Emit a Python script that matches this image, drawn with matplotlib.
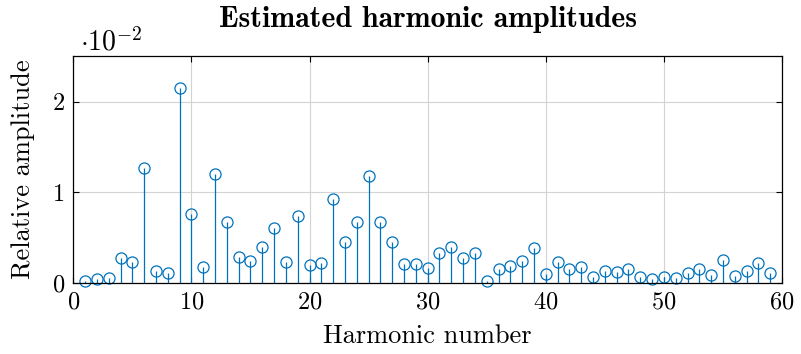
import numpy as np
import matplotlib
matplotlib.use("Agg")
import matplotlib.pyplot as plt
from matplotlib.ticker import FuncFormatter

plt.rcParams["font.family"] = "serif"
plt.rcParams["font.serif"] = ["cmr10"]
plt.rcParams["mathtext.fontset"] = "cm"
plt.rcParams["axes.unicode_minus"] = False
plt.rcParams["axes.formatter.use_mathtext"] = True

# Harmonic amplitudes (in units of 1e-2)
harmonics = np.arange(1, 60)
amplitudes_e2 = [
    0.022, 0.037, 0.048, 0.27, 0.23, 1.267, 0.133, 0.107, 2.155, 0.756,
    0.17, 1.204, 0.674, 0.284, 0.24, 0.391, 0.601, 0.229, 0.740, 0.192,
    0.214, 0.925, 0.446, 0.671, 1.179, 0.667, 0.446, 0.21, 0.21, 0.160,
    0.325, 0.398, 0.276, 0.325, 0.019, 0.148, 0.188, 0.236, 0.38, 0.096,
    0.232, 0.155, 0.173, 0.06, 0.125, 0.12, 0.148, 0.06, 0.044, 0.06,
    0.048, 0.11, 0.155, 0.085, 0.25, 0.07, 0.133, 0.214, 0.104,
]
scale = 1e-2
amplitudes = np.array(amplitudes_e2) * scale

xticks = [0, 10, 20, 30, 40, 50, 60]
yticks = [0, 1e-2, 2e-2]

color = "#0072BD"
fig = plt.figure(figsize=(8.01, 3.54), dpi=100)
ax = fig.add_axes([73.3 / 801, 1 - 282.7 / 354, (782 - 73.3) / 801, (282.7 - 56) / 354])

markerline, stemlines, baseline = ax.stem(harmonics, amplitudes, basefmt=" ")
plt.setp(stemlines, color=color, linewidth=0.9)
plt.setp(markerline, marker="o", markersize=8, markerfacecolor="none",
         markeredgecolor=color, markeredgewidth=0.9)
markerline.set_clip_on(False)

ax.set_xlim(0, 60)
ax.set_ylim(0, 2.505e-2)
ax.set_xticks(xticks)
ax.set_yticks(yticks)
ax.yaxis.set_major_formatter(FuncFormatter(lambda v, p: f"{v / scale:g}"))
ax.grid(True, color="#d3d3d3", linewidth=0.8)
ax.set_axisbelow(True)
ax.tick_params(direction="in", top=True, right=True, length=4, width=0.8,
               labelsize=17.5, pad=6)
for s in ax.spines.values():
    s.set_linewidth(0.9)

ax.set_xlabel("Harmonic number", fontsize=19, labelpad=8)
ax.set_ylabel("Relative amplitude", fontsize=19, labelpad=13)
ax.set_title("Estimated harmonic amplitudes", fontsize=21.5, fontfamily="cmb10", pad=21)
ax.text(0.01, 1.025, r"$\cdot 10^{-2}$", transform=ax.transAxes, fontsize=20,
        ha="left", va="baseline")

fig.savefig("out.png", dpi=100)
